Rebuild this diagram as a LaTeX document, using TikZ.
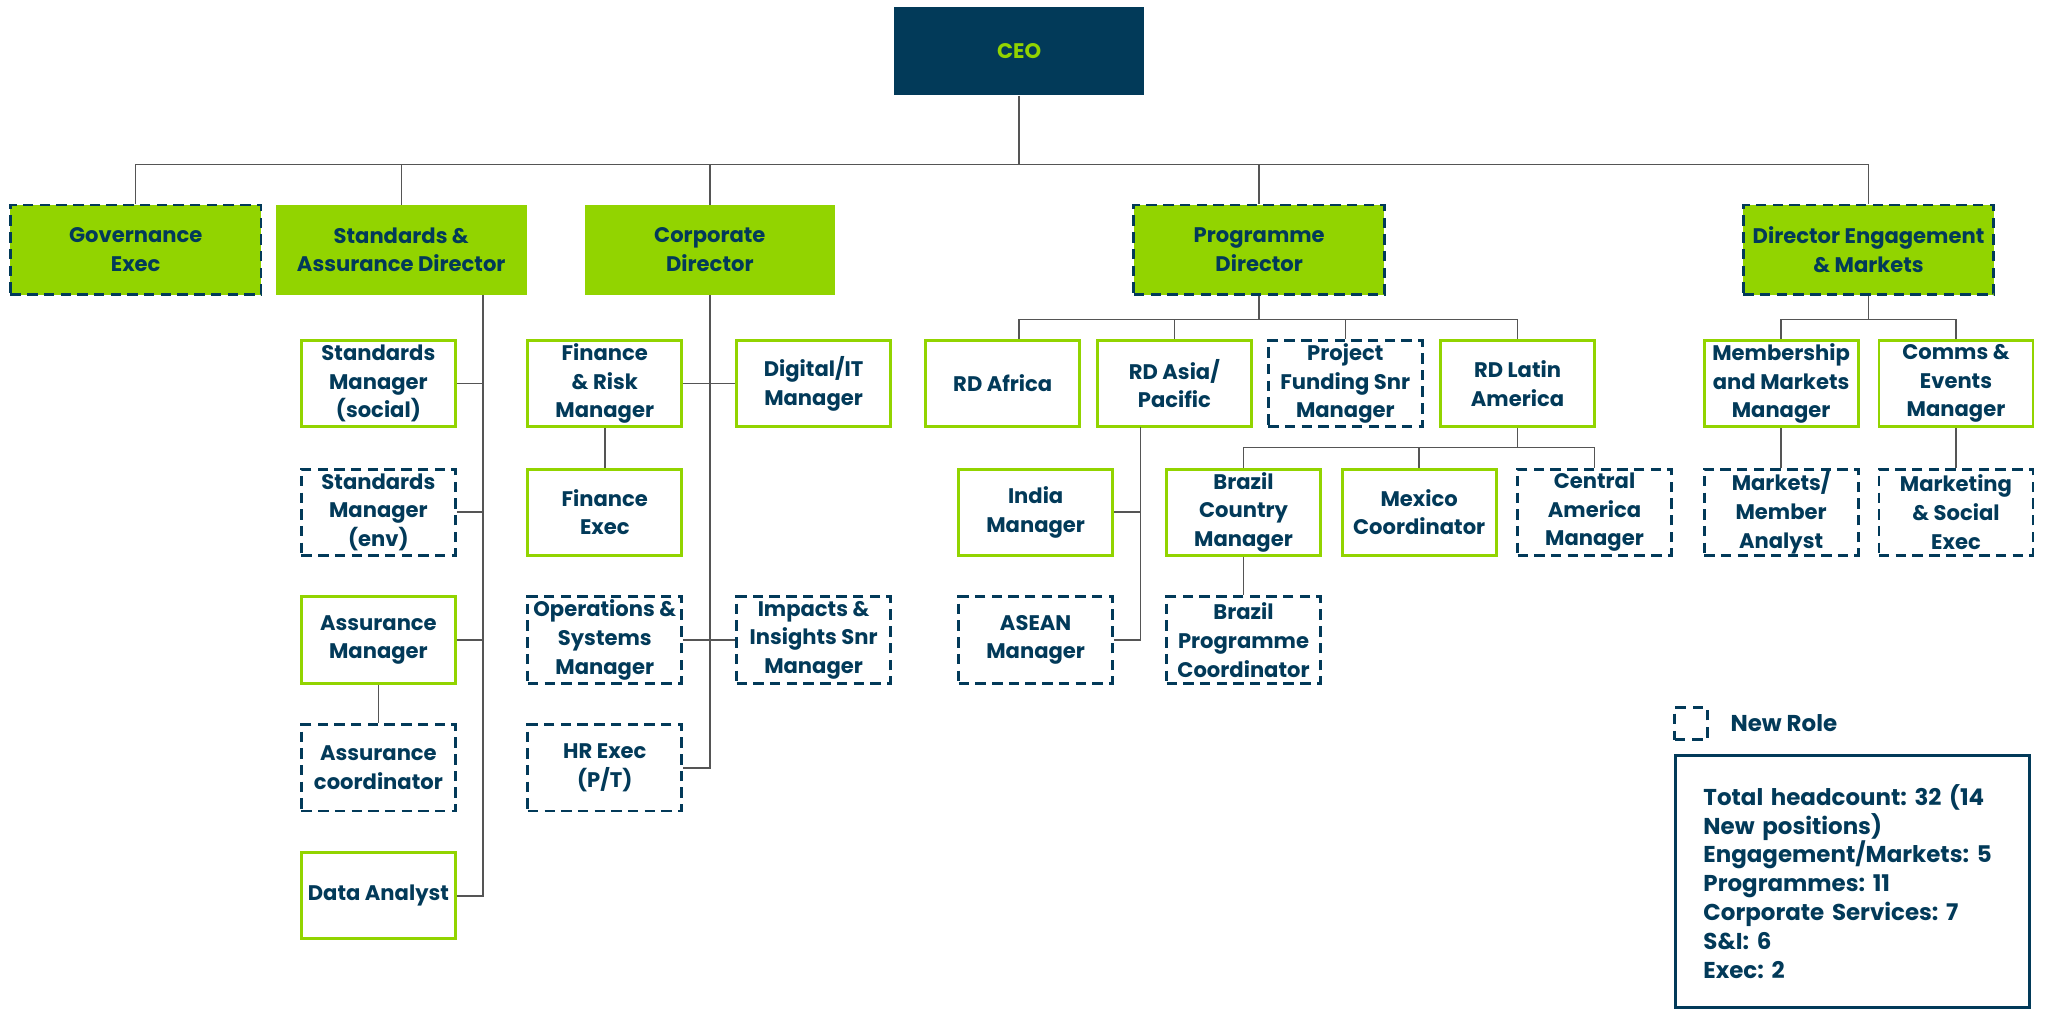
\documentclass[tikz,border=0pt]{standalone}
\usepackage{fontspec}
\setmainfont{Poppins}
\frenchspacing
\definecolor{navy}{RGB}{2,58,89}
\definecolor{rgreen}{RGB}{146,212,0}
\definecolor{linegray}{RGB}{85,85,85}
\tikzset{
  lead/.style={fill=rgreen, text=navy, minimum width=4.8cm, minimum height=1.72cm, inner sep=0pt, align=center, font=\bfseries\fontsize{11.5}{15.6}\selectfont},
  leadnew/.style={lead, draw=navy, line width=1.6pt, dash pattern=on 0.2cm off 0.12cm},
  role/.style={draw=rgreen, line width=1.6pt, text=navy, minimum width=2.95cm, minimum height=1.65cm, inner sep=0pt, align=center, font=\bfseries\fontsize{11.5}{15.6}\selectfont},
  rolenew/.style={role, draw=navy, dash pattern=on 0.2cm off 0.12cm},
  link/.style={draw=linegray, line width=0.8pt}
}
\begin{document}
\begin{tikzpicture}[x=0.025cm, y=-0.025cm]
  \useasboundingbox (0,0) rectangle (1568,774);
  % top level
  \node[lead, fill=navy, text=rgreen, minimum height=1.7cm] (ceo) at (781,39) {CEO};
  \node[leadnew] (gov) at (104,191.5) {Governance\\Exec};
  \node[lead] (sad) at (307.5,191.5) {Standards \&\\Assurance Director};
  \node[lead] (cdir) at (544,191.5) {Corporate\\Director};
  \node[leadnew] (pdir) at (965,191.5) {Programme\\Director};
  \node[leadnew] (dem) at (1432,191.5) {Director Engagement\\\& Markets};
  \coordinate (bus) at (781,126);
  \draw[link] (ceo.south) -- (bus);
  \foreach \n in {gov,sad,cdir,pdir,dem}
    \draw[link] (bus) -| (\n.north);

  % standards and assurance
  \node[role] (smsoc) at (290,294) {Standards\\Manager\\(social)};
  \node[rolenew] (smenv) at (290,392.5) {Standards\\Manager\\(env)};
  \node[role] (asm) at (290,490.5) {Assurance\\Manager};
  \node[rolenew] (asc) at (290,588.5) {Assurance\\coordinator};
  \node[role] (dan) at (290,686.5) {Data Analyst};
  \coordinate (strunk) at (370,226);
  \draw[link] (strunk) |- (dan.east);
  \foreach \n in {smsoc,smenv,asm}
    \draw[link] (\n.east) -- (\n.east -| strunk);
  \draw[link] (asm.south) -- (asc.north);

  % corporate
  \node[role] (fin) at (463.5,294) {Finance\\\& Risk\\Manager};
  \node[role] (dit) at (623.5,294) {Digital/IT\\Manager};
  \node[role] (fex) at (463.5,392.5) {Finance\\Exec};
  \node[rolenew] (ops) at (463.5,490.5) {Operations \&\\Systems\\Manager};
  \node[rolenew] (imp) at (623.5,490.5) {Impacts \&\\Insights Snr\\Manager};
  \node[rolenew] (hr) at (463.5,588.5) {HR Exec\\(P/T)};
  \draw[link] (cdir.south) |- (hr.east);
  \draw[link] (fin.east) -- (dit.west);
  \draw[link] (ops.east) -- (imp.west);
  \draw[link] (fin.south) -- (fex.north);

  % programmes
  \node[role] (rdaf) at (768.5,294) {RD Africa};
  \node[role] (rdap) at (900,294) {RD Asia/\\Pacific};
  \node[rolenew] (pfs) at (1031,294) {Project\\Funding Snr\\Manager};
  \node[role] (rdla) at (1163,294) {RD Latin\\America};
  \node[role] (ind) at (793.7,392.5) {India\\Manager};
  \node[rolenew] (asean) at (793.7,490.5) {ASEAN\\Manager};
  \node[role] (bcm) at (953,392.5) {Brazil\\Country\\Manager};
  \node[role] (mex) at (1087.6,392.5) {Mexico\\Coordinator};
  \node[rolenew] (cam) at (1222,392.5) {Central\\America\\Manager};
  \node[rolenew] (bpc) at (953,490.5) {Brazil\\Programme\\Coordinator};
  \coordinate (pbus) at (965,245);
  \draw[link] (pdir.south) -- (pbus);
  \draw[link] (pbus) -| ([xshift=0.31cm]rdaf.north);
  \foreach \n in {rdap,pfs,rdla}
    \draw[link] (pbus) -| (\n.north);
  \coordinate (atrunk) at (874,327.4);
  \draw[link] (atrunk) |- (asean.east);
  \draw[link] (ind.east) -- (ind.east -| atrunk);
  \coordinate (lbus) at (1163,343);
  \draw[link] (rdla.south) -- (lbus);
  \foreach \n in {bcm,mex,cam}
    \draw[link] (lbus) -| (\n.north);
  \draw[link] (bcm.south) -- (bpc.north);

  % engagement and markets
  \node[role] (mmm) at (1365,294) {Membership\\and Markets\\Manager};
  \node[role] (cem) at (1499,294) {Comms \&\\Events\\Manager};
  \node[rolenew] (mma) at (1365,392.5) {Markets/\\Member\\Analyst};
  \node[rolenew] (mse) at (1499,392.5) {Marketing\\\& Social\\Exec};
  \coordinate (ebus) at (1432,245);
  \draw[link] (dem.south) -- (ebus);
  \foreach \n in {mmm,cem}
    \draw[link] (ebus) -| (\n.north);
  \draw[link] (mmm.south) -- (mma.north);
  \draw[link] (cem.south) -- (mse.north);

  % legend
  \node[draw=navy, line width=1.6pt, dash pattern=on 0.2cm off 0.13cm, minimum size=0.62cm, inner sep=0pt] (newkey) at (1296,554.5) {};
  \node[anchor=west, text=navy, inner sep=0pt, font=\bfseries\fontsize{12.5}{15.7}\selectfont] (newtxt) at (1326,554.5) {New Role};
  \node[draw=navy, line width=1.6pt, text=navy, minimum width=6.78cm, minimum height=4.82cm, text width=5.7cm, inner xsep=0.54cm, align=left, font=\bfseries\fontsize{12.5}{15.7}\selectfont] (tot) at (1419.5,675.5)
    {Total headcount: 32 (14\\New positions)\\Engagement/Markets: 5\\Programmes: 11\\Corporate Services: 7\\S\&I: 6\\Exec: 2};
\end{tikzpicture}
\end{document}
